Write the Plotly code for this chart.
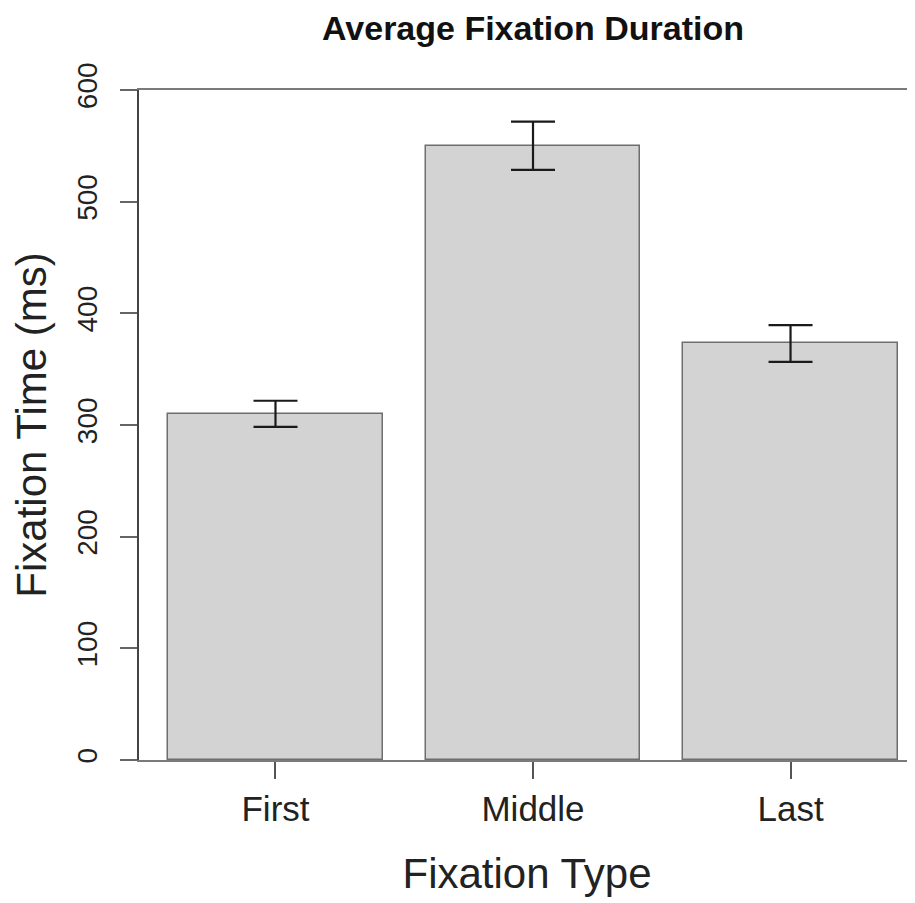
import plotly.graph_objects as go

categories = ["First", "Middle", "Last"]
mean_ms = [310, 550, 373]
err_ms = [11.7, 21.6, 16.4]
bar_pos = [0.7, 1.9, 3.1]
y_ticks = [0, 100, 200, 300, 400, 500, 600]

FONT = "Liberation Sans, Arial, Helvetica, sans-serif"
W, H = 907, 895  # page adds an 8px body margin

fig = go.Figure()
fig.add_trace(go.Bar(
    x=bar_pos, y=mean_ms, width=1.0,
    marker=dict(color="#D3D3D3", line=dict(color="#6e6e6e", width=1.5)),
    error_y=dict(type="data", array=err_ms, visible=True,
                 color="#1a1a1a", thickness=2.2, width=22),
    showlegend=False,
))

fig.update_layout(
    width=W, height=H,
    margin=dict(l=131, r=0, t=82, b=143, autoexpand=False),
    paper_bgcolor="white", plot_bgcolor="white",
    font=dict(family=FONT, color="#222"),
    title=dict(text="<b>Average Fixation Duration</b>",
               font=dict(size=34, color="#111", family=FONT),
               x=525/W, xanchor="center", xref="container",
               y=1 - 20/H, yanchor="middle", yref="container",
               automargin=False),
    bargap=0,
)

fig.update_xaxes(
    automargin=False,
    range=[0.064, 0.064 + 776/214.6],
    tickvals=bar_pos, ticktext=categories,
    ticks="outside", ticklen=17, tickwidth=1.5, tickcolor="#555",
    tickfont=dict(size=35, color="#222"),
    ticklabelstandoff=0,
    showline=True, linecolor="#7a7a7a", linewidth=2, mirror=True,
    showgrid=False, zeroline=False,
    title=dict(text="Fixation Type", font=dict(size=42, color="#222"), standoff=32),
)
fig.update_yaxes(
    automargin=False,
    range=[0, 600], tickvals=y_ticks,
    ticks="outside", ticklen=17, tickwidth=1.5, tickcolor="#666",
    tickfont=dict(size=28, color="#222"), tickangle=-90,
    ticklabelstandoff=12,
    showline=True, linecolor="#444", linewidth=1.5,
    showgrid=False, zeroline=False,
    title=dict(text="Fixation Time (ms)", font=dict(size=42, color="#222"), standoff=17),
)

fig.write_html("out.html")
